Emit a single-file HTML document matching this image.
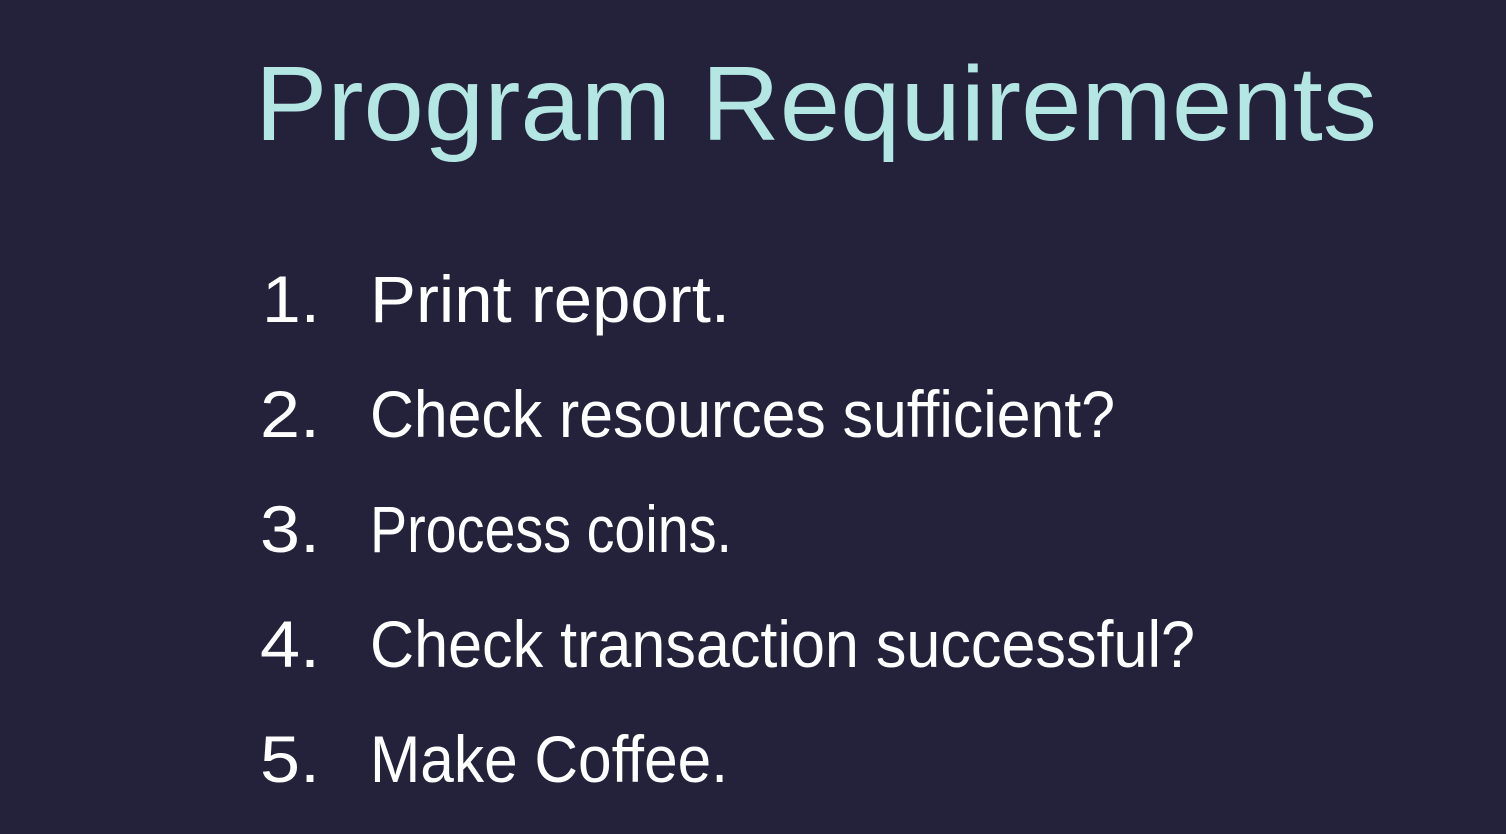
<!DOCTYPE html>
<html>
<head>
<meta charset="utf-8">
<style>
  html, body { margin: 0; padding: 0; }
  body { width: 1506px; height: 834px; background: #24223b; overflow: hidden; }
  svg { display: block; }
</style>
</head>
<body>
<svg width="1506" height="834" viewBox="0 0 1506 834">
  <rect x="0" y="0" width="1506" height="834" fill="#24223b"/>
  <text x="255" y="140" font-family="Liberation Sans, sans-serif" font-size="106" fill="#b4e6e4" textLength="1122" lengthAdjust="spacingAndGlyphs">Program Requirements</text>
  <g font-family="Liberation Sans, sans-serif" font-size="66" fill="#ffffff" font-weight="normal">
    <text x="262" y="322" textLength="58" lengthAdjust="spacingAndGlyphs">1.</text>
    <text x="370" y="322" textLength="360" lengthAdjust="spacingAndGlyphs">Print report.</text>
    <text x="260" y="437" textLength="60" lengthAdjust="spacingAndGlyphs">2.</text>
    <text x="370" y="437" textLength="745" lengthAdjust="spacingAndGlyphs">Check resources sufficient?</text>
    <text x="260" y="552" textLength="60" lengthAdjust="spacingAndGlyphs">3.</text>
    <text x="370" y="552" textLength="362" lengthAdjust="spacingAndGlyphs">Process coins.</text>
    <text x="260" y="667" textLength="60" lengthAdjust="spacingAndGlyphs">4.</text>
    <text x="370" y="667" textLength="825" lengthAdjust="spacingAndGlyphs">Check transaction successful?</text>
    <text x="260" y="782" textLength="60" lengthAdjust="spacingAndGlyphs">5.</text>
    <text x="370" y="782" textLength="358" lengthAdjust="spacingAndGlyphs">Make Coffee.</text>
  </g>
</svg>
</body>
</html>
